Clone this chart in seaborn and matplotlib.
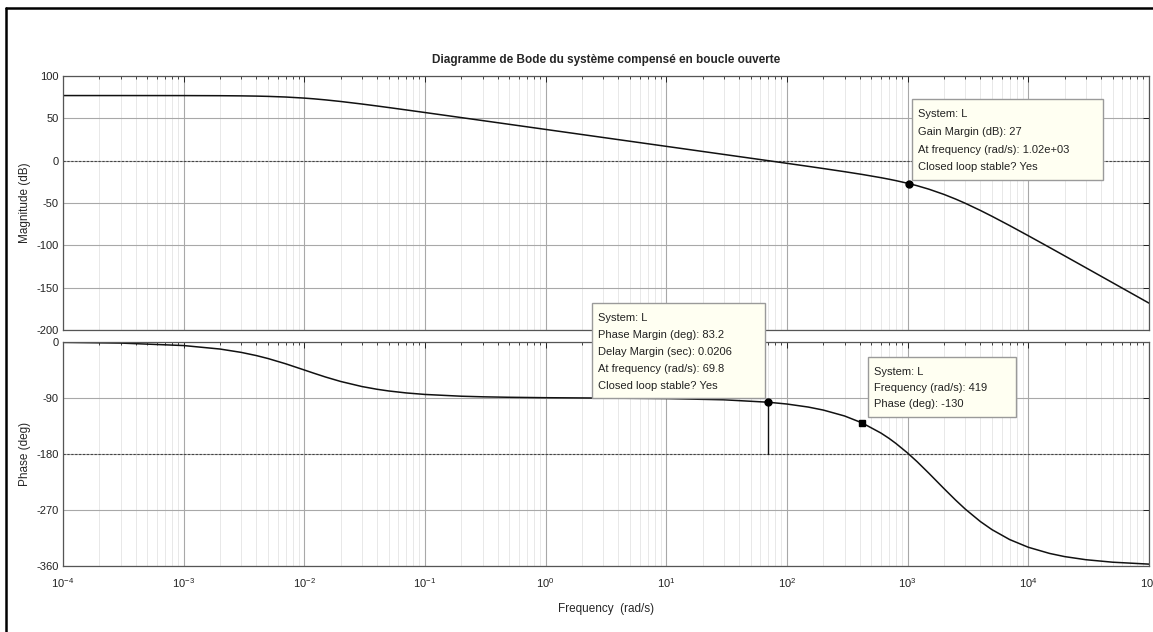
import matplotlib
matplotlib.use("Agg")
import matplotlib.pyplot as plt
from matplotlib.patches import Rectangle
from matplotlib.lines import Line2D
from matplotlib.ticker import LogLocator, FixedLocator, NullFormatter
import numpy as np
import pandas as pd
import seaborn as sns

# ---------------- data ----------------
freq = [1e-4, 3e-4, 1e-3, 2e-3, 3e-3, 4e-3, 5e-3, 7e-3, 1e-2, 1.2e-2, 1.5e-2, 2e-2,
        3e-2, 4e-2, 5e-2, 7e-2, 1e-1, 2e-1, 3e-1, 5e-1, 1, 3, 10, 30, 70, 100, 150,
        200, 300, 419, 600, 700, 800, 1000, 1200, 1500, 2000, 2500, 3000, 4000,
        5000, 7000, 1e4, 1.5e4, 2e4, 3e4, 5e4, 1e5]
magnitude_db = [76.9, 76.9, 76.86, 76.73, 76.53, 76.26, 75.93, 75.17, 73.89, 73.03,
                71.78, 69.91, 66.9, 64.6, 62.75, 59.91, 56.86, 50.87, 47.35, 42.92,
                36.9, 27.36, 16.9, 7.35, -0.02, -3.14, -6.71, -9.29, -13.01, -16.25,
                -20.08, -21.9, -23.59, -26.72, -29.62, -33.69, -39.87, -45.39, -50.31,
                -58.75, -65.71, -76.67, -88.67, -102.53, -112.45, -126.48, -144.2,
                -168.27]
phase_deg = [-0.57, -1.72, -5.71, -11.31, -16.7, -21.8, -26.57, -34.99, -45.0, -50.19,
             -56.31, -63.43, -71.57, -75.96, -78.69, -81.87, -84.29, -87.14, -88.09,
             -88.85, -89.53, -90.1, -90.9, -92.9, -96.8, -99.7, -104.56, -109.4, -118.9,
             -130.0, -146.3, -154.8, -163.1, -178.5, -192.5, -211.0, -235.6, -254.2,
             -268.5, -288.5, -301.6, -317.5, -329.9, -339.8, -344.9, -349.9, -353.9,
             -357.0]

system_name = "L"
gm_db, gm_freq = 27, 1.02e3
pm_deg, pm_delay, pm_freq = 83.2, 0.0206, 69.8
tip_freq, tip_phase = 419, -130

mag_ticks = [100, 50, 0, -50, -100, -150, -200]
phase_ticks = [0, -90, -180, -270, -360]
title = "Diagramme de Bode du système compensé en boucle ouverte"

# ---------------- style ----------------
sns.set_style("white")
plt.rcParams["font.family"] = ["Liberation Sans", "DejaVu Sans"]
plt.rcParams["mathtext.default"] = "regular"
plt.rcParams["axes.unicode_minus"] = False

W, H = 1153, 632
fig = plt.figure(figsize=(W / 100, H / 100), dpi=100)


def fx(x):
    return x / W


def fy(y):
    return 1 - y / H


ax_m = fig.add_axes([fx(63), fy(330), fx(1149) - fx(63), fy(76) - fy(330)])
ax_p = fig.add_axes([fx(63), fy(566), fx(1149) - fx(63), fy(342) - fy(566)])

df = pd.DataFrame({"freq": freq, "mag": magnitude_db, "phase": phase_deg})
sns.lineplot(data=df, x="freq", y="mag", ax=ax_m, color="#111111", lw=1.1,
             sort=False, estimator=None)
sns.lineplot(data=df, x="freq", y="phase", ax=ax_p, color="#111111", lw=1.1,
             sort=False, estimator=None)

for ax, ticks in ((ax_m, mag_ticks), (ax_p, phase_ticks)):
    ax.set_xscale("log")
    ax.set_xlim(1e-4, 1e5)
    ax.set_ylim(min(ticks), max(ticks))
    ax.yaxis.set_major_locator(FixedLocator(ticks))
    ax.xaxis.set_major_locator(LogLocator(base=10, numticks=20))
    ax.xaxis.set_minor_locator(LogLocator(base=10, subs=np.arange(2, 10), numticks=20))
    ax.xaxis.set_minor_formatter(NullFormatter())
    ax.grid(True, which="major", color="#a8a8a8", lw=0.8)
    ax.grid(True, which="minor", axis="x", color="#e4e4e4", lw=0.6)
    ax.tick_params(which="both", direction="in", top=True, right=True,
                   labelsize=8, colors="#222222")
    ax.tick_params(axis="y", pad=3)
    ax.tick_params(axis="x", pad=7)
    ax.tick_params(which="major", length=4, width=0.7)
    ax.tick_params(which="minor", length=2.5, width=0.6)
    for s in ax.spines.values():
        s.set_color("#555555")
        s.set_linewidth(0.9)
    ax.set_xlabel("")
    ax.set_axisbelow(True)

ax_m.tick_params(labelbottom=False)
ax_m.axhline(0, color="#444444", lw=0.8, ls=(0, (2, 1.5)), zorder=1)
ax_p.axhline(-180, color="#444444", lw=0.8, ls=(0, (2, 1.5)), zorder=1)

ax_m.set_ylabel("Magnitude (dB)", fontsize=8.5, labelpad=4)
ax_p.set_ylabel("Phase (deg)", fontsize=8.5, labelpad=4)
ax_p.set_xlabel("Frequency  (rad/s)", fontsize=8.5, labelpad=10)
ax_m.set_title(title, fontsize=8.5, fontweight="bold", pad=9)

# margin markers
gm_mag = -gm_db
pm_phase = pm_deg - 180
ax_m.plot([gm_freq], [gm_mag], "o", color="black", ms=5, zorder=5)
ax_p.plot([pm_freq, pm_freq], [pm_phase, -180], color="#111111", lw=1.0, zorder=4)
ax_p.plot([pm_freq], [pm_phase], "o", color="black", ms=5, zorder=5)
ax_p.plot([tip_freq], [tip_phase], "s", color="black", ms=5, zorder=5)

# data-tip boxes (pixel layout of the reference)
box_face, box_edge = "#fffff2", "#9a9a9a"


def tip_box(x0, y0, x1, y1, lines, line_y):
    fig.add_artist(Rectangle((fx(x0), fy(y1)), fx(x1) - fx(x0), fy(y0) - fy(y1),
                             transform=fig.transFigure, facecolor=box_face,
                             edgecolor=box_edge, lw=1.0, zorder=10))
    for t, yy in zip(lines, line_y):
        fig.text(fx(x0 + 6), fy(yy), t, fontsize=8, color="#222222",
                 va="center", ha="left", zorder=11)


tip_box(912, 99, 1103, 180,
        [f"System: {system_name}", f"Gain Margin (dB): {gm_db}",
         f"At frequency (rad/s): {gm_freq:.2e}", "Closed loop stable? Yes"],
        [114, 132, 150, 167])
tip_box(592, 303, 765, 398,
        [f"System: {system_name}", f"Phase Margin (deg): {pm_deg}",
         f"Delay Margin (sec): {pm_delay}", f"At frequency (rad/s): {pm_freq}",
         "Closed loop stable? Yes"],
        [318, 335, 352, 369, 386])
tip_box(868, 357, 1016, 417,
        [f"System: {system_name}", f"Frequency (rad/s): {tip_freq}",
         f"Phase (deg): {tip_phase}"],
        [372, 388, 404])

# frame of the screenshot (top and left edges)
fig.add_artist(Line2D([fx(6), 1], [fy(8), fy(8)], transform=fig.transFigure,
                      color="black", lw=1.8))
fig.add_artist(Line2D([fx(6), fx(6)], [0, fy(8)], transform=fig.transFigure,
                      color="black", lw=1.8))

fig.savefig("out.png", dpi=100)
